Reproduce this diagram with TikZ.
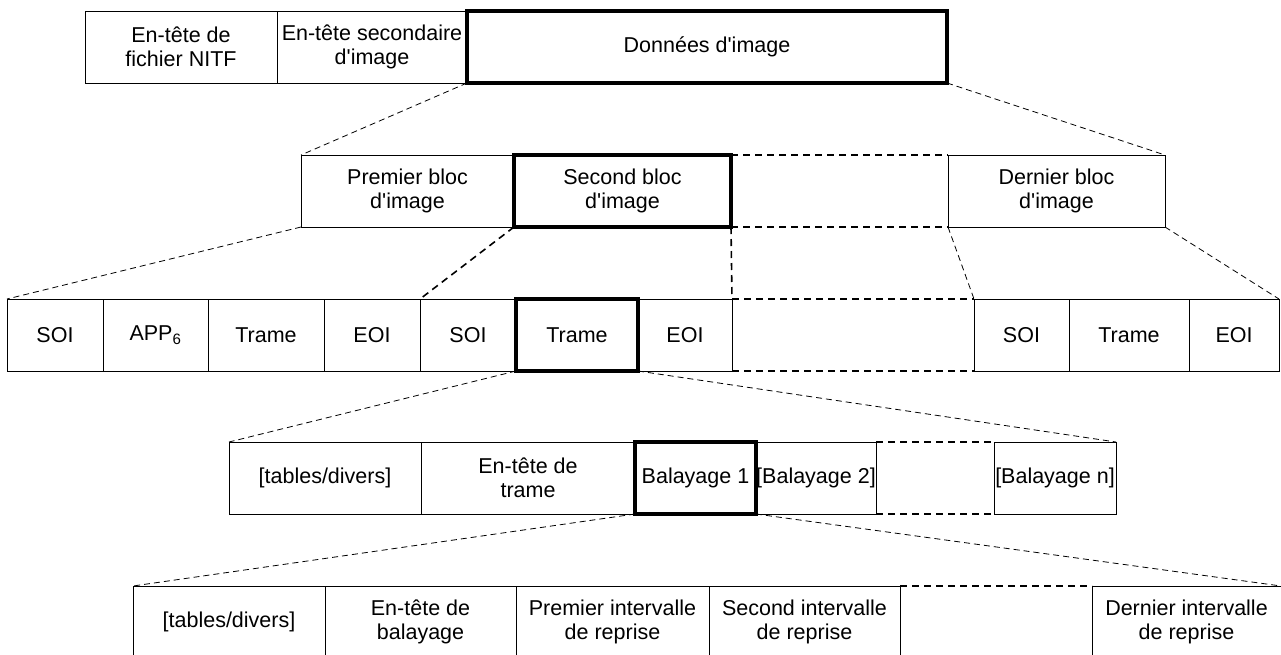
\documentclass[tikz,border=0pt]{standalone}
\usepackage{fontspec}
\newfontfamily\cellfam{Liberation Sans}
\newcommand{\cellfont}{\cellfam\fontsize{21.5}{24}\selectfont}

\begin{document}
\begin{tikzpicture}[x=1pt, y=-1pt,
    cell/.style={draw, line width=0.9pt, anchor=north west, inner sep=0pt,
      outer sep=0pt, minimum height=72pt, align=center, font=\cellfont},
    bold/.style={cell, line width=3.1pt},
    gap/.style={anchor=north west, inner sep=0pt, outer sep=0pt, minimum height=72pt},
    zoomline/.style={line width=0.8pt, dash pattern=on 6pt off 4pt},
    gapline/.style={line width=1.6pt, dash pattern=on 7pt off 5pt}]
  \useasboundingbox (0,0) rectangle (1281,654);
  \clip (0,0) rectangle (1281,654);

  % fichier NITF
  \node[cell, minimum width=192] (nitf) at (85,11) {En-tête de\\fichier NITF};
  \node[cell, minimum width=190] (sub) at (277,11) {En-tête secondaire\\d'image};
  \node[bold, minimum width=480] (img) at (467,11) {Données d'image};

  % blocs d'image
  \node[cell, minimum width=213] (blk1) at (301,155) {Premier bloc\\d'image};
  \node[bold, minimum width=217] (blk2) at (514,155) {Second bloc\\d'image};
  \node[gap, minimum width=217] (gapA) at (731,155) {};
  \node[cell, minimum width=217] (blkn) at (948,155) {Dernier bloc\\d'image};

  % flux JPEG
  \node[cell, minimum width=96] (soiA) at (7,299) {SOI};
  \node[cell, minimum width=105] (appA) at (103,299) {APP\textsubscript{6}};
  \node[cell, minimum width=116] (trameA) at (208,299) {Trame};
  \node[cell, minimum width=96] (eoiA) at (324,299) {EOI};
  \node[cell, minimum width=96] (soiB) at (420,299) {SOI};
  \node[bold, minimum width=122] (trameB) at (516,299) {Trame};
  \node[cell, minimum width=94] (eoiB) at (638,299) {EOI};
  \node[gap, minimum width=242] (gapB) at (732,299) {};
  \node[cell, minimum width=95] (soiC) at (974,299) {SOI};
  \node[cell, minimum width=120] (trameC) at (1069,299) {Trame};
  \node[cell, minimum width=90] (eoiC) at (1189,299) {EOI};

  % trame
  \node[cell, minimum width=192] (tab) at (229,442) {[tables/divers]};
  \node[cell, minimum width=214] (hdr) at (421,442) {En-tête de\\trame};
  \node[bold, minimum width=121] (bal1) at (635,442) {Balayage 1};
  \node[cell, minimum width=120] (bal2) at (756,442) {[Balayage 2]};
  \node[gap, minimum width=118] (gapC) at (876,442) {};
  \node[cell, minimum width=122] (baln) at (994,442) {[Balayage n]};

  % balayage
  \node[cell, minimum width=192] (tabS) at (133,586) {[tables/divers]};
  \node[cell, minimum width=191] (hdrS) at (325,586) {En-tête de\\balayage};
  \node[cell, minimum width=193] (int1) at (516,586) {Premier intervalle\\de reprise};
  \node[cell, minimum width=191] (int2) at (709,586) {Second intervalle\\de reprise};
  \node[gap, minimum width=192] (gapD) at (900,586) {};
  \node[cell, minimum width=189] (intn) at (1092,586) {Dernier intervalle\\de reprise};

  % elements omis
  \foreach \g in {gapA, gapB, gapC, gapD}
    \draw[gapline] (\g.north west) -- (\g.north east) (\g.south west) -- (\g.south east);

  % agrandissements
  \draw[zoomline] (img.south west) -- (blk1.north west);
  \draw[zoomline] (img.south east) -- (blkn.north east);
  \draw[zoomline] (blk1.south west) -- (soiA.north west);
  \draw[gapline] (blk2.south west) -- (soiB.north west);
  \draw[gapline] (blk2.south east) -- (gapB.north west);
  \draw[zoomline] (blkn.south west) -- (soiC.north west);
  \draw[zoomline] (blkn.south east) -- (eoiC.north east);
  \draw[zoomline] (trameB.south west) -- (tab.north west);
  \draw[zoomline] (trameB.south east) -- (baln.north east);
  \draw[zoomline] (bal1.south west) -- (tabS.north west);
  \draw[zoomline] (bal1.south east) -- (intn.north east);
\end{tikzpicture}
\end{document}
